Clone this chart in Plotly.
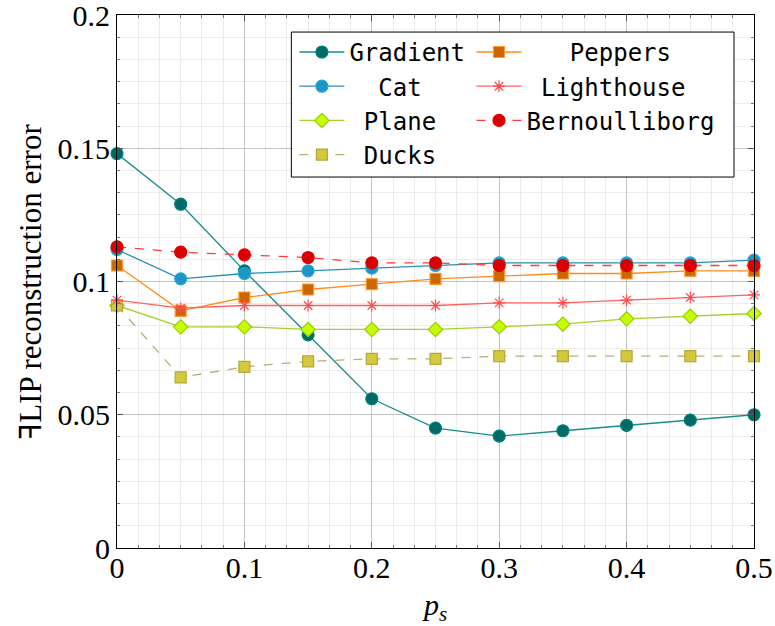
import plotly.graph_objects as go

ps = [0.0, 0.05, 0.1, 0.15, 0.2, 0.25, 0.3, 0.35, 0.4, 0.45, 0.5]

gradient = [0.148, 0.129, 0.104, 0.080, 0.056, 0.045, 0.042, 0.044, 0.046, 0.048, 0.050]
cat = [0.112, 0.101, 0.103, 0.104, 0.105, 0.106, 0.107, 0.107, 0.107, 0.107, 0.108]
plane = [0.091, 0.083, 0.083, 0.082, 0.082, 0.082, 0.083, 0.084, 0.086, 0.087, 0.088]
ducks = [0.091, 0.064, 0.068, 0.070, 0.071, 0.071, 0.072, 0.072, 0.072, 0.072, 0.072]
peppers = [0.106, 0.089, 0.094, 0.097, 0.099, 0.101, 0.102, 0.103, 0.103, 0.104, 0.104]
lighthouse = [0.093, 0.090, 0.091, 0.091, 0.091, 0.091, 0.092, 0.092, 0.093, 0.094, 0.095]
bernoulliborg = [0.113, 0.111, 0.110, 0.109, 0.107, 0.107, 0.106, 0.106, 0.106, 0.106, 0.106]

y_ticks = [0, 0.05, 0.1, 0.15, 0.2]
y_ticklabels = ["0", "0.05", "0.1", "0.15", "0.2"]
x_ticks = [0, 0.1, 0.2, 0.3, 0.4, 0.5]
x_ticklabels = ["0", "0.1", "0.2", "0.3", "0.4", "0.5"]

NB = "\u00a0"
series = [
    # name, values, line colour, dash, symbol, marker fill, marker edge, size, legend, pad
    ("Gradient", gradient, "#1a8c8c", "solid", "circle", "#006b66", "#00807a", 12, "legend", 0),
    ("Cat", cat, "#2a8fb5", "solid", "circle", "#1a96c8", "#2aa5d0", 12, "legend", 2),
    ("Plane", plane, "#a6d02a", "solid", "diamond", "#c4ff00", "#99cc00", 11, "legend", 1),
    ("Ducks", ducks, "#b5ae70", "dash", "square", "#d4c83c", "#b5a83a", 11, "legend", 1),
    ("Peppers", peppers, "#ff8c1a", "solid", "square", "#cc6600", "#ff9933", 11, "legend2", 3),
    ("Lighthouse", lighthouse, "#ff6060", "solid", "asterisk-open", "#ff4d4d", "#ff4d4d", 10, "legend2", 1),
    ("Bernoulliborg", bernoulliborg, "#ff3a3a", "dash", "circle", "#dd0000", "#e00000", 12, "legend2", 0),
]

fig = go.Figure()
for name, vals, lc, dash, sym, mfill, medge, msize, leg, pad in series:
    fig.add_trace(go.Scatter(
        x=ps, y=vals, mode="lines+markers", name=NB * pad + name,
        line=dict(color=lc, width=1.3, dash=dash),
        marker=dict(symbol=sym, size=msize, color=mfill,
                    line=dict(color=medge, width=1.2)),
        cliponaxis=False, legend=leg,
    ))

fig.add_shape(type="rect", xref="paper", yref="paper",
              x0=0.2737, x1=0.9686, y0=0.696, y1=0.968,
              line=dict(color="black", width=1), fillcolor="white", layer="above")

legend_font = dict(family="DejaVu Sans Mono", size=24, color="black")
fig.update_layout(
    width=775, height=626,
    margin=dict(l=116.5, r=21, t=15, b=78, autoexpand=False),
    paper_bgcolor="white", plot_bgcolor="white",
    font=dict(family="Liberation Serif", size=30, color="black"),
    showlegend=True,
    legend=dict(x=0.2785, y=0.972, xanchor="left", yanchor="top",
                bgcolor="rgba(0,0,0,0)", borderwidth=0, font=legend_font,
                tracegroupgap=0, itemwidth=45),
    legend2=dict(x=0.5565, y=0.972, xanchor="left", yanchor="top",
                 bgcolor="rgba(0,0,0,0)", borderwidth=0, font=legend_font,
                 tracegroupgap=0, itemwidth=45),
    xaxis=dict(
        range=[0, 0.5], tickvals=x_ticks, ticktext=x_ticklabels, automargin=False,
        ticks="inside", ticklen=6, tickcolor="#555", mirror="allticks",
        showline=True, linecolor="black", linewidth=1,
        showgrid=True, gridcolor="#c4c4c4", gridwidth=1, zeroline=False,
        tickfont=dict(family="Liberation Serif", size=30),
        ticklabeloverflow="allow", ticklabelstandoff=-7,
        minor=dict(dtick=0.1 / 6, ticks="inside", ticklen=3, tickcolor="#777",
                   showgrid=True, gridcolor="#ececec", gridwidth=1),
        title=dict(text="<i>p<sub>s</sub></i>", font=dict(size=30), standoff=10),
    ),
    yaxis=dict(
        range=[0, 0.2], tickvals=y_ticks, ticktext=y_ticklabels, automargin=False,
        ticks="inside", ticklen=6, tickcolor="#555", mirror="allticks",
        showline=True, linecolor="black", linewidth=1,
        showgrid=True, gridcolor="#c4c4c4", gridwidth=1, zeroline=False,
        tickfont=dict(family="Liberation Serif", size=30),
        ticklabeloverflow="allow",
        minor=dict(dtick=0.05 / 6, ticks="inside", ticklen=3, tickcolor="#777",
                   showgrid=True, gridcolor="#ececec", gridwidth=1),
        title=dict(text="\ua7fbLIP reconstruction error", font=dict(size=31), standoff=6),
    ),
)

fig.write_html("out.html")
